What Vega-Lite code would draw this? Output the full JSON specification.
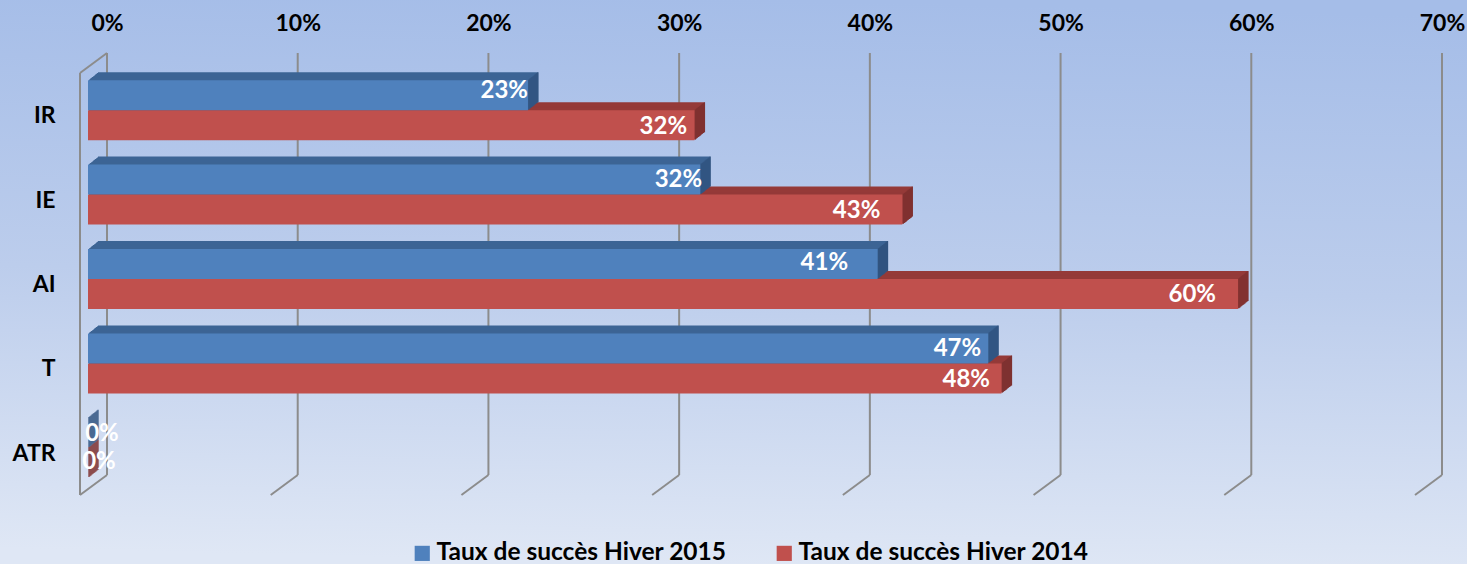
{"$schema":"https://vega.github.io/schema/vega-lite/v6.json","width":1335,"height":422,"autosize":{"type":"none"},"padding":{"left":80,"top":73,"right":52,"bottom":69},
"background":"#c0d0ee",
"config":{"view":{"stroke":null},"font":"Lato","text":{"font":"Lato"}},
"datasets":{"ticks":[{"tick":0},{"tick":0.1},{"tick":0.2},{"tick":0.3},{"tick":0.4},{"tick":0.5},{"tick":0.6},{"tick":0.7}],
"rows":[{"cat":"IR","series":"Taux de succès Hiver 2015","value":0.2307},{"cat":"IR","series":"Taux de succès Hiver 2014","value":0.318},{"cat":"IE","series":"Taux de succès Hiver 2015","value":0.321},{"cat":"IE","series":"Taux de succès Hiver 2014","value":0.427},{"cat":"AI","series":"Taux de succès Hiver 2015","value":0.414},{"cat":"AI","series":"Taux de succès Hiver 2014","value":0.603},{"cat":"T","series":"Taux de succès Hiver 2015","value":0.472},{"cat":"T","series":"Taux de succès Hiver 2014","value":0.479},{"cat":"ATR","series":"Taux de succès Hiver 2015","value":0},{"cat":"ATR","series":"Taux de succès Hiver 2014","value":0}]},
"resolve":{"scale":{"y":"independent"}},
"layer":[
{"data":{"name":"ticks"},
"encoding":{"x":{"field":"tick","type":"quantitative","scale":{"domain":[0,0.7],"nice":false},"axis":{"orient":"top","zindex":1,"values":[0,0.1,0.2,0.3,0.4,0.5,0.6,0.7],"format":".0%","title":null,"domain":false,"ticks":false,"grid":false,"labelFont":"Lato","labelFontWeight":"bold","labelFontSize":23,"labelColor":"#000000","labelPadding":38,"labelOffset":27,"labelFlush":false,"labelOverlap":false}},
"y":{"datum":0,"type":"quantitative","scale":{"domain":[0,1],"nice":false},"axis":null},"y2":{"datum":1}},
"layer":[
{"transform":[{"filter":"datum.tick==0"}],"mark":{"type":"rect","xOffset":-80,"x2Offset":52,"yOffset":69,"y2Offset":-73,"color":{"gradient":"linear","x1":0.53,"y1":0,"x2":0.47,"y2":1,"stops":[{"offset":0,"color":"#a5bde8"},{"offset":0.5,"color":"#bccdec"},{"offset":1,"color":"#dfe7f5"}]}},"encoding":{"x2":{"datum":0.7}}},
{"mark":{"type":"rule","color":"#8c8c8c","strokeWidth":2,"xOffset":27,"yOffset":-20,"y2Offset":-20}},
{"mark":{"type":"rule","color":"#8c8c8c","strokeWidth":2,"x2Offset":27,"y2Offset":-20},"encoding":{"x2":{"field":"tick"},"y2":{"datum":0}}},
{"transform":[{"filter":"datum.tick==0"}],"mark":{"type":"rule","color":"#8c8c8c","strokeWidth":2}},
{"transform":[{"filter":"datum.tick==0"}],"mark":{"type":"rule","color":"#8c8c8c","strokeWidth":2,"x2Offset":27,"y2Offset":-20},"encoding":{"x2":{"field":"tick"},"y":{"datum":1},"y2":{"datum":1}}}
]},
{"data":{"name":"rows"},
"encoding":{"x":{"field":"value","type":"quantitative"},
"y":{"field":"cat","type":"nominal","sort":["IR","IE","AI","T","ATR"],"scale":{"paddingInner":0.29,"paddingOuter":0.145},"axis":{"orient":"left","zindex":1,"title":null,"domain":false,"ticks":false,"grid":false,"labelFont":"Lato","labelFontWeight":"bold","labelFontSize":23,"labelColor":"#000000","labelPadding":25,"labelOffset":1}}},
"layer":[
{"transform":[{"filter":"datum.series=='Taux de succès Hiver 2014'"}],
"layer":[
{"mark":{"type":"bar","height":30,"color":"#953a38","xOffset":18,"x2Offset":18,"yOffset":2,"y2Offset":2}},
{"mark":{"type":"bar","height":30,"color":"#953a38","xOffset":17,"x2Offset":17,"yOffset":2.8,"y2Offset":2.8}},
{"mark":{"type":"bar","height":30,"color":"#953a38","xOffset":16,"x2Offset":16,"yOffset":3.6,"y2Offset":3.6}},
{"mark":{"type":"bar","height":30,"color":"#953a38","xOffset":15,"x2Offset":15,"yOffset":4.4,"y2Offset":4.4}},
{"mark":{"type":"bar","height":30,"color":"#953a38","xOffset":14,"x2Offset":14,"yOffset":5.2,"y2Offset":5.2}},
{"mark":{"type":"bar","height":30,"color":"#953a38","xOffset":13,"x2Offset":13,"yOffset":6,"y2Offset":6}},
{"mark":{"type":"bar","height":30,"color":"#953a38","xOffset":12,"x2Offset":12,"yOffset":6.8,"y2Offset":6.8}},
{"mark":{"type":"bar","height":30,"color":"#953a38","xOffset":11,"x2Offset":11,"yOffset":7.6,"y2Offset":7.6}},
{"mark":{"type":"bar","height":30,"color":"#953a38","xOffset":10,"x2Offset":10,"yOffset":8.4,"y2Offset":8.4}},
{"mark":{"type":"bar","height":30,"color":"#953a38","xOffset":9,"x2Offset":9,"yOffset":9.2,"y2Offset":9.2}},
{"mark":{"type":"bar","height":30,"color":"#7f3130","stroke":"#7f3130","strokeWidth":1.2,"xOffset":18,"x2Offset":18,"yOffset":2,"y2Offset":2},"encoding":{"x2":{"field":"value"}}},
{"mark":{"type":"bar","height":30,"color":"#7f3130","stroke":"#7f3130","strokeWidth":1.2,"xOffset":17,"x2Offset":17,"yOffset":2.8,"y2Offset":2.8},"encoding":{"x2":{"field":"value"}}},
{"mark":{"type":"bar","height":30,"color":"#7f3130","stroke":"#7f3130","strokeWidth":1.2,"xOffset":16,"x2Offset":16,"yOffset":3.6,"y2Offset":3.6},"encoding":{"x2":{"field":"value"}}},
{"mark":{"type":"bar","height":30,"color":"#7f3130","stroke":"#7f3130","strokeWidth":1.2,"xOffset":15,"x2Offset":15,"yOffset":4.4,"y2Offset":4.4},"encoding":{"x2":{"field":"value"}}},
{"mark":{"type":"bar","height":30,"color":"#7f3130","stroke":"#7f3130","strokeWidth":1.2,"xOffset":14,"x2Offset":14,"yOffset":5.2,"y2Offset":5.2},"encoding":{"x2":{"field":"value"}}},
{"mark":{"type":"bar","height":30,"color":"#7f3130","stroke":"#7f3130","strokeWidth":1.2,"xOffset":13,"x2Offset":13,"yOffset":6,"y2Offset":6},"encoding":{"x2":{"field":"value"}}},
{"mark":{"type":"bar","height":30,"color":"#7f3130","stroke":"#7f3130","strokeWidth":1.2,"xOffset":12,"x2Offset":12,"yOffset":6.8,"y2Offset":6.8},"encoding":{"x2":{"field":"value"}}},
{"mark":{"type":"bar","height":30,"color":"#7f3130","stroke":"#7f3130","strokeWidth":1.2,"xOffset":11,"x2Offset":11,"yOffset":7.6,"y2Offset":7.6},"encoding":{"x2":{"field":"value"}}},
{"mark":{"type":"bar","height":30,"color":"#7f3130","stroke":"#7f3130","strokeWidth":1.2,"xOffset":10,"x2Offset":10,"yOffset":8.4,"y2Offset":8.4},"encoding":{"x2":{"field":"value"}}},
{"mark":{"type":"bar","height":30,"color":"#7f3130","stroke":"#7f3130","strokeWidth":1.2,"xOffset":9,"x2Offset":9,"yOffset":9.2,"y2Offset":9.2},"encoding":{"x2":{"field":"value"}}},
{"mark":{"type":"bar","height":30,"xOffset":8,"x2Offset":8,"yOffset":10,"y2Offset":10},"encoding":{"color":{"field":"series","type":"nominal","scale":{"domain":["Taux de succès Hiver 2015","Taux de succès Hiver 2014"],"range":["#4f81bd","#c0504d"]},"legend":{"title":null,"orient":"none","legendX":330,"legendY":468,"direction":"horizontal","columns":2,"symbolType":"square","symbolSize":230,"symbolOpacity":1,"labelFont":"Lato","labelFontWeight":"bold","labelFontSize":24.5,"labelColor":"#000000","labelLimit":400,"labelOffset":2,"columnPadding":45}}}}
]},
{"transform":[{"filter":"datum.series=='Taux de succès Hiver 2015'"}],
"layer":[
{"mark":{"type":"bar","height":30,"color":"#3d6595","xOffset":18,"x2Offset":18,"yOffset":-28,"y2Offset":-28}},
{"mark":{"type":"bar","height":30,"color":"#3d6595","xOffset":17,"x2Offset":17,"yOffset":-27.2,"y2Offset":-27.2}},
{"mark":{"type":"bar","height":30,"color":"#3d6595","xOffset":16,"x2Offset":16,"yOffset":-26.4,"y2Offset":-26.4}},
{"mark":{"type":"bar","height":30,"color":"#3d6595","xOffset":15,"x2Offset":15,"yOffset":-25.6,"y2Offset":-25.6}},
{"mark":{"type":"bar","height":30,"color":"#3d6595","xOffset":14,"x2Offset":14,"yOffset":-24.8,"y2Offset":-24.8}},
{"mark":{"type":"bar","height":30,"color":"#3d6595","xOffset":13,"x2Offset":13,"yOffset":-24,"y2Offset":-24}},
{"mark":{"type":"bar","height":30,"color":"#3d6595","xOffset":12,"x2Offset":12,"yOffset":-23.2,"y2Offset":-23.2}},
{"mark":{"type":"bar","height":30,"color":"#3d6595","xOffset":11,"x2Offset":11,"yOffset":-22.4,"y2Offset":-22.4}},
{"mark":{"type":"bar","height":30,"color":"#3d6595","xOffset":10,"x2Offset":10,"yOffset":-21.6,"y2Offset":-21.6}},
{"mark":{"type":"bar","height":30,"color":"#3d6595","xOffset":9,"x2Offset":9,"yOffset":-20.8,"y2Offset":-20.8}},
{"mark":{"type":"bar","height":30,"color":"#315480","stroke":"#315480","strokeWidth":1.2,"xOffset":18,"x2Offset":18,"yOffset":-28,"y2Offset":-28},"encoding":{"x2":{"field":"value"}}},
{"mark":{"type":"bar","height":30,"color":"#315480","stroke":"#315480","strokeWidth":1.2,"xOffset":17,"x2Offset":17,"yOffset":-27.2,"y2Offset":-27.2},"encoding":{"x2":{"field":"value"}}},
{"mark":{"type":"bar","height":30,"color":"#315480","stroke":"#315480","strokeWidth":1.2,"xOffset":16,"x2Offset":16,"yOffset":-26.4,"y2Offset":-26.4},"encoding":{"x2":{"field":"value"}}},
{"mark":{"type":"bar","height":30,"color":"#315480","stroke":"#315480","strokeWidth":1.2,"xOffset":15,"x2Offset":15,"yOffset":-25.6,"y2Offset":-25.6},"encoding":{"x2":{"field":"value"}}},
{"mark":{"type":"bar","height":30,"color":"#315480","stroke":"#315480","strokeWidth":1.2,"xOffset":14,"x2Offset":14,"yOffset":-24.8,"y2Offset":-24.8},"encoding":{"x2":{"field":"value"}}},
{"mark":{"type":"bar","height":30,"color":"#315480","stroke":"#315480","strokeWidth":1.2,"xOffset":13,"x2Offset":13,"yOffset":-24,"y2Offset":-24},"encoding":{"x2":{"field":"value"}}},
{"mark":{"type":"bar","height":30,"color":"#315480","stroke":"#315480","strokeWidth":1.2,"xOffset":12,"x2Offset":12,"yOffset":-23.2,"y2Offset":-23.2},"encoding":{"x2":{"field":"value"}}},
{"mark":{"type":"bar","height":30,"color":"#315480","stroke":"#315480","strokeWidth":1.2,"xOffset":11,"x2Offset":11,"yOffset":-22.4,"y2Offset":-22.4},"encoding":{"x2":{"field":"value"}}},
{"mark":{"type":"bar","height":30,"color":"#315480","stroke":"#315480","strokeWidth":1.2,"xOffset":10,"x2Offset":10,"yOffset":-21.6,"y2Offset":-21.6},"encoding":{"x2":{"field":"value"}}},
{"mark":{"type":"bar","height":30,"color":"#315480","stroke":"#315480","strokeWidth":1.2,"xOffset":9,"x2Offset":9,"yOffset":-20.8,"y2Offset":-20.8},"encoding":{"x2":{"field":"value"}}},
{"mark":{"type":"bar","height":30,"xOffset":8,"x2Offset":8,"yOffset":-20,"y2Offset":-20},"encoding":{"color":{"field":"series","type":"nominal"}}}
]},
{"transform":[{"filter":"datum.cat=='IR' && datum.series=='Taux de succès Hiver 2015'"}],"mark":{"type":"text","font":"Lato","fontWeight":"bold","fontSize":24,"color":"#ffffff","align":"right","baseline":"middle","xOffset":8,"yOffset":-24},"encoding":{"text":{"field":"value","type":"quantitative","format":".0%"}}},
{"transform":[{"filter":"datum.cat=='IR' && datum.series=='Taux de succès Hiver 2014'"}],"mark":{"type":"text","font":"Lato","fontWeight":"bold","fontSize":24,"color":"#ffffff","align":"right","baseline":"middle","xOffset":0.6,"yOffset":11.8},"encoding":{"text":{"field":"value","type":"quantitative","format":".0%"}}},
{"transform":[{"filter":"datum.cat=='IE' && datum.series=='Taux de succès Hiver 2015'"}],"mark":{"type":"text","font":"Lato","fontWeight":"bold","fontSize":24,"color":"#ffffff","align":"right","baseline":"middle","xOffset":10,"yOffset":-19.6},"encoding":{"text":{"field":"value","type":"quantitative","format":".0%"}}},
{"transform":[{"filter":"datum.cat=='IE' && datum.series=='Taux de succès Hiver 2014'"}],"mark":{"type":"text","font":"Lato","fontWeight":"bold","fontSize":24,"color":"#ffffff","align":"right","baseline":"middle","xOffset":-14,"yOffset":11.4},"encoding":{"text":{"field":"value","type":"quantitative","format":".0%"}}},
{"transform":[{"filter":"datum.cat=='AI' && datum.series=='Taux de succès Hiver 2015'"}],"mark":{"type":"text","font":"Lato","fontWeight":"bold","fontSize":24,"color":"#ffffff","align":"right","baseline":"middle","xOffset":-21.5,"yOffset":-21},"encoding":{"text":{"field":"value","type":"quantitative","format":".0%"}}},
{"transform":[{"filter":"datum.cat=='AI' && datum.series=='Taux de succès Hiver 2014'"}],"mark":{"type":"text","font":"Lato","fontWeight":"bold","fontSize":24,"color":"#ffffff","align":"right","baseline":"middle","xOffset":-14,"yOffset":11},"encoding":{"text":{"field":"value","type":"quantitative","format":".0%"}}},
{"transform":[{"filter":"datum.cat=='T' && datum.series=='Taux de succès Hiver 2015'"}],"mark":{"type":"text","font":"Lato","fontWeight":"bold","fontSize":24,"color":"#ffffff","align":"right","baseline":"middle","xOffset":1,"yOffset":-19.4},"encoding":{"text":{"field":"value","type":"quantitative","format":".0%"}}},
{"transform":[{"filter":"datum.cat=='T' && datum.series=='Taux de succès Hiver 2014'"}],"mark":{"type":"text","font":"Lato","fontWeight":"bold","fontSize":24,"color":"#ffffff","align":"right","baseline":"middle","xOffset":-3.5,"yOffset":11.6},"encoding":{"text":{"field":"value","type":"quantitative","format":".0%"}}},
{"transform":[{"filter":"datum.cat=='ATR' && datum.series=='Taux de succès Hiver 2015'"}],"mark":{"type":"text","font":"Lato","fontWeight":"bold","fontSize":24,"color":"#ffffff","align":"center","baseline":"middle","xOffset":22,"yOffset":-18.8},"encoding":{"text":{"field":"value","type":"quantitative","format":".0%"}}},
{"transform":[{"filter":"datum.cat=='ATR' && datum.series=='Taux de succès Hiver 2014'"}],"mark":{"type":"text","font":"Lato","fontWeight":"bold","fontSize":24,"color":"#ffffff","align":"center","baseline":"middle","xOffset":19,"yOffset":9.2},"encoding":{"text":{"field":"value","type":"quantitative","format":".0%"}}}
]}
]}
